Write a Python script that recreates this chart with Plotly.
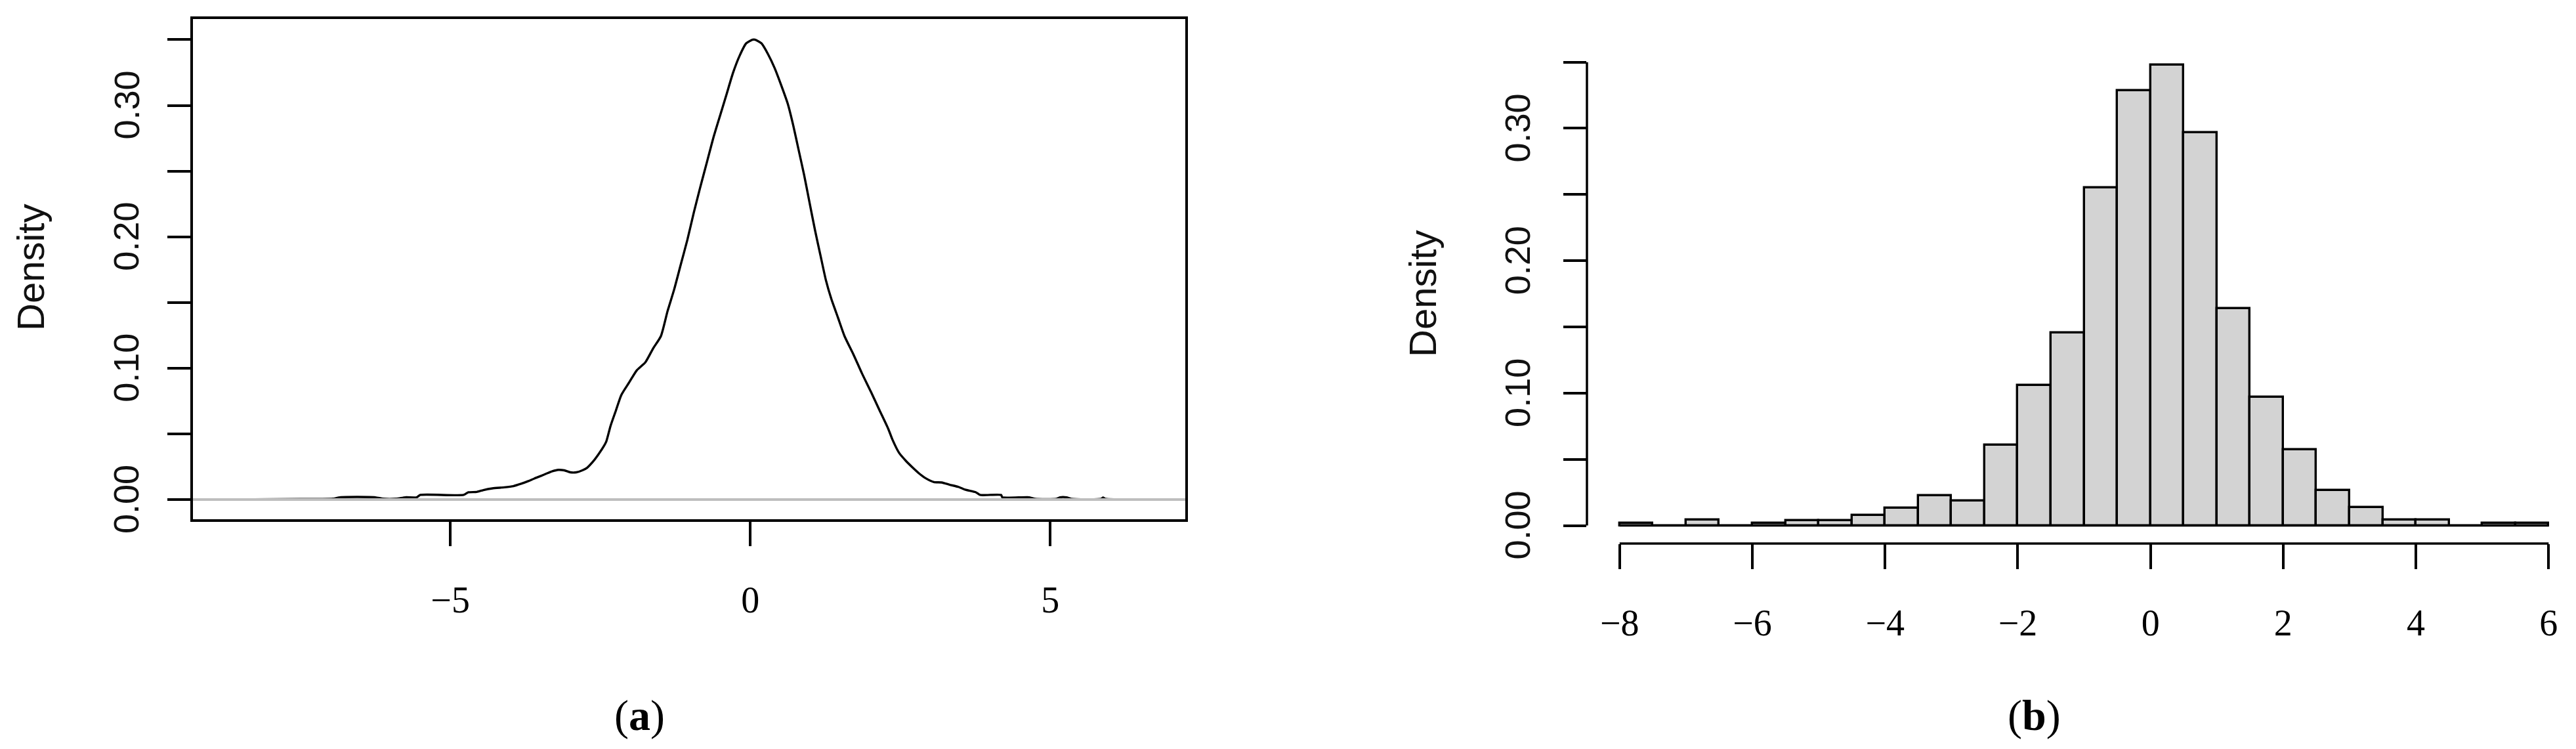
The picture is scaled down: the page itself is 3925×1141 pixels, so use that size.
import plotly.graph_objects as go

# page is 3925x1141; the browser's default 8px body margin is kept free on every side
PAGE_W, PAGE_H, BODY = 3925, 1141, 8
W, H = PAGE_W - 2 * BODY, PAGE_H - 2 * BODY


def xp(px):
    return (px - BODY) / W


def yp(py):
    return 1 - (py - BODY) / H


# ---------------- data: panel (a) kernel density ----------------
dens_x = [-8.68, -7.5, -6.95, -6.84, -6.25, -6.12, -5.9, -5.75, -5.56, -5.5, -4.78, -4.7, -4.56,
          -4.45, -4.3, -4.1, -3.95, -3.82, -3.7, -3.6, -3.5, -3.4, -3.3, -3.2, -3.1, -3.0,
          -2.9, -2.8, -2.72, -2.62, -2.53, -2.45, -2.40, -2.33, -2.24, -2.15, -2.02, -1.89,
          -1.75, -1.62, -1.49, -1.38, -1.27, -1.16, -1.05, -0.94, -0.835, -0.725, -0.616,
          -0.507, -0.397, -0.288, -0.178, -0.069, 0.04, 0.077, 0.186, 0.295, 0.405, 0.514,
          0.624, 0.715, 0.806, 0.897, 0.988, 1.08, 1.17, 1.26, 1.35, 1.46, 1.57, 1.72, 1.86,
          2.01, 2.155, 2.30, 2.37, 2.48, 2.59, 2.70, 2.81, 2.92, 3.06, 3.19, 3.32, 3.47, 3.58,
          3.76, 3.83, 4.18, 4.2, 4.65, 4.75, 5.1, 5.16, 5.27, 5.35, 5.85, 5.88, 5.92, 6.64]
dens_y = [0.0, 0.0004, 0.0006, 0.0017, 0.0017, 0.0006, 0.0006, 0.0017, 0.0017, 0.0035, 0.0035,
          0.0055, 0.0058, 0.0072, 0.0085, 0.0093, 0.0102, 0.012, 0.014, 0.016, 0.0178, 0.0197,
          0.0215, 0.0226, 0.0222, 0.0207, 0.0207, 0.0222, 0.0242, 0.029, 0.0345, 0.040, 0.0443,
          0.056, 0.0678, 0.0796, 0.0891, 0.0985, 0.1044, 0.115, 0.1244, 0.1433, 0.1598, 0.1787,
          0.1975, 0.2187, 0.2376, 0.2565, 0.2753, 0.2918, 0.3083, 0.3248, 0.3378, 0.3472, 0.3500,
          0.3500, 0.3472, 0.339, 0.3284, 0.3154, 0.3012, 0.2848, 0.2659, 0.247, 0.2258, 0.2046,
          0.1857, 0.1669, 0.1527, 0.1386, 0.1244, 0.1103, 0.0961, 0.082, 0.0678, 0.0537, 0.0455,
          0.0355, 0.0296, 0.0246, 0.0200, 0.0163, 0.0133, 0.013, 0.0113, 0.0096, 0.0075, 0.0055,
          0.0035, 0.0035, 0.0017, 0.0017, 0.0005, 0.0005, 0.0017, 0.0017, 0.0005, 0.0005, 0.0015,
          0.0005, 0.0]

# ---------------- data: panel (b) histogram ----------------
hist_breaks = [-8.0, -7.5, -7.0, -6.5, -6.0, -5.5, -5.0, -4.5, -4.0, -3.5, -3.0, -2.5, -2.0, -1.5,
               -1.0, -0.5, 0.0, 0.5, 1.0, 1.5, 2.0, 2.5, 3.0, 3.5, 4.0, 4.5, 5.0, 5.5, 6.0]
hist_density = [0.002, 0.0, 0.0041, 0.0, 0.002, 0.004, 0.004, 0.0078, 0.0132, 0.0228, 0.0187,
                0.0607, 0.106, 0.1458, 0.255, 0.3287, 0.3477, 0.2967, 0.164, 0.097, 0.0574,
                0.0268, 0.0135, 0.0041, 0.0041, 0.0, 0.002, 0.002]

# ---------------- ticks ----------------
a_xticks = [-5, 0, 5]
a_xticktext = ["\u22125", "0", "5"]
y_ticks = [0.0, 0.05, 0.10, 0.15, 0.20, 0.25, 0.30, 0.35]
y_label_vals = [0.0, 0.10, 0.20, 0.30]
y_label_text = ["0.00", "0.10", "0.20", "0.30"]
b_xticks = [-8, -6, -4, -2, 0, 2, 4, 6]
b_xticktext = ["\u22128", "\u22126", "\u22124", "\u22122", "0", "2", "4", "6"]

a_xrange = [-9.29, 7.25]
a_yrange = [-0.015, 0.3657]
b_yrange = [-0.01358, 0.3642]
# panel (b) plot region runs from px 2418 to the page edge; the figure stops 8px earlier
b_xrange = [-8.4926, 6.4125 - BODY / 101.1]

LW = 3.5
SANS = "Liberation Sans, Arial, sans-serif"
SERIF = "Liberation Serif, Times New Roman, serif"

fig = go.Figure()

# panel (a)
fig.add_trace(go.Scatter(x=dens_x, y=dens_y, mode="lines",
                         line=dict(color="black", width=3.4, shape="spline", smoothing=0.6),
                         xaxis="x", yaxis="y", showlegend=False, hoverinfo="skip"))
fig.add_trace(go.Scatter(x=a_xrange, y=[0, 0], mode="lines", line=dict(color="#BEBEBE", width=4),
                         xaxis="x", yaxis="y", showlegend=False, hoverinfo="skip"))

# panel (b)
centers = [(a + b) / 2 for a, b in zip(hist_breaks[:-1], hist_breaks[1:])]
widths = [b - a for a, b in zip(hist_breaks[:-1], hist_breaks[1:])]
fig.add_trace(go.Bar(x=centers, y=hist_density, width=widths,
                     marker=dict(color="#D3D3D3", line=dict(color="black", width=3.4)),
                     xaxis="x2", yaxis="y2", showlegend=False, hoverinfo="skip"))
fig.add_trace(go.Scatter(x=[hist_breaks[0], hist_breaks[-1]], y=[0, 0], mode="lines",
                         line=dict(color="black", width=3.4),
                         xaxis="x2", yaxis="y2", showlegend=False, hoverinfo="skip"))

common_tick = dict(ticks="outside", tickwidth=LW, tickcolor="black", showgrid=False,
                   zeroline=False, automargin=False)

annotations = [
    dict(text="Density", x=xp(46), y=yp(408), xref="paper", yref="paper", showarrow=False,
         textangle=-90, font=dict(family=SANS, size=58, color="#111111"), xanchor="center", yanchor="middle"),
    dict(text="Density", x=xp(2167), y=yp(448), xref="paper", yref="paper", showarrow=False,
         textangle=-90, font=dict(family=SANS, size=58, color="#111111"), xanchor="center", yanchor="middle"),
    dict(text="(<b>a</b>)", x=xp(974), y=yp(1090), xref="paper", yref="paper", showarrow=False,
         font=dict(family=SERIF, size=66, color="black"), xanchor="center", yanchor="middle"),
    dict(text="(<b>b</b>)", x=xp(3099), y=yp(1090), xref="paper", yref="paper", showarrow=False,
         font=dict(family=SERIF, size=66, color="black"), xanchor="center", yanchor="middle"),
]
# rotated y tick labels (parallel to the axis)
for yref, px in (("y", 192), ("y2", 2312)):
    for v, t in zip(y_label_vals, y_label_text):
        annotations.append(dict(text=t, x=xp(px), y=v, xref="paper", yref=yref, showarrow=False,
                                textangle=-90, font=dict(family=SANS, size=54, color="#111111"),
                                xanchor="center", yanchor="middle"))

fig.update_layout(
    width=W, height=H,
    margin=dict(l=0, r=0, t=0, b=0, autoexpand=False),
    paper_bgcolor="white", plot_bgcolor="white",
    bargap=0,
    xaxis=dict(domain=[xp(294), xp(1806)], range=a_xrange, anchor="y",
               tickvals=a_xticks, ticktext=a_xticktext, ticklen=37,
               showline=True, mirror=True, linewidth=LW, linecolor="black",
               tickfont=dict(family=SERIF, size=56, color="black"), ticklabelstandoff=34,
               **common_tick),
    yaxis=dict(domain=[yp(791), yp(29)], range=a_yrange, anchor="x",
               tickvals=y_ticks, showticklabels=False, ticklen=35,
               showline=True, mirror=True, linewidth=LW, linecolor="black",
               **common_tick),
    xaxis2=dict(domain=[xp(2418), 1.0], range=b_xrange, anchor="y2",
                tickvals=b_xticks, ticktext=b_xticktext, ticklen=38, showline=False,
                tickfont=dict(family=SERIF, size=56, color="black"), ticklabelstandoff=34,
                **common_tick),
    yaxis2=dict(domain=[yp(828), yp(66)], range=b_yrange, anchor="x2",
                tickvals=y_ticks, showticklabels=False, ticklen=35, showline=False,
                **common_tick),
    shapes=[
        dict(type="line", xref="x2 domain", yref="y2", x0=0, x1=0, y0=y_ticks[0], y1=y_ticks[-1],
             line=dict(color="black", width=LW)),
        dict(type="line", xref="x2", yref="y2 domain", x0=b_xticks[0], x1=b_xticks[-1], y0=0, y1=0,
             line=dict(color="black", width=LW)),
    ],
    annotations=annotations,
)

fig.write_html("out.html", config={"displayModeBar": False})
